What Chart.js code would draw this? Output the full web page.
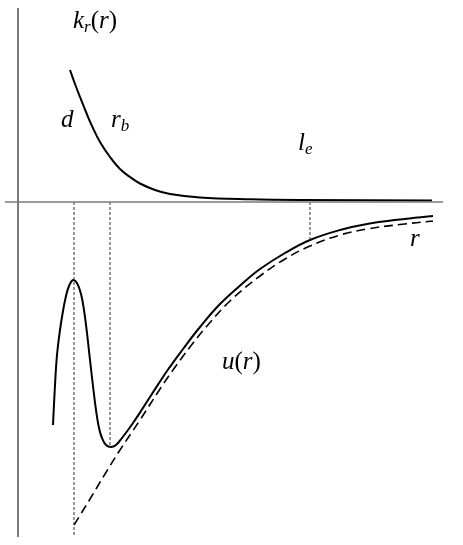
<!DOCTYPE html>
<html>
<head>
<meta charset="utf-8">
<script src="https://cdn.jsdelivr.net/npm/chart.js@4/dist/chart.umd.min.js"></script>
<style>
  html, body { margin: 0; padding: 0; background: #fff; }
  #grafico { display: block; }
</style>
</head>
<body>
<canvas id="grafico" width="463" height="545"></canvas>
<script>
// valores (r horizontal, valor vertical; el eje r esta en 0)
const kR_r = [70, 75, 80, 86, 92, 100, 110, 120, 130, 140, 155, 170, 200, 250, 300, 432];
const kR_v = [132, 118, 105, 90, 76, 60, 45, 33, 25, 18.5, 12, 8, 4.5, 2.7, 2, 1.5];

const u_r = [53, 55, 57, 60, 63, 66, 69, 73, 77, 81, 84, 87, 90, 93, 96, 99, 102, 106, 111, 116, 122, 133, 150, 167, 183, 200, 220, 243, 260, 285, 310, 340, 367, 400, 433];
const u_v = [-223, -183, -153, -128, -109, -94, -84, -78, -81, -92, -108, -131, -158, -184, -208, -226, -236, -243, -245, -243, -236, -221, -195, -169, -147, -125, -102, -81, -67, -51, -38, -28, -22, -17.5, -14];

const asint_r = [74, 90, 105, 120, 140, 160, 173, 190, 207, 230, 260, 285, 310, 340, 367, 400, 433];
const asint_v = [-323, -297, -272, -248, -218, -187, -168, -145, -124, -99, -74, -57, -44, -33, -27, -22.5, -19];

// marcas verticales punteadas: d, r_b, l_e
const marcas_r = [74, 110, 310];
const marcas_fin = [-335, -243, -39];

// ejes
const ejeR = { r: [5, 443], v: [0, 0] };
const ejeV = { r: [18, 18], v: [194, -335] };

const puntos = (xs, ys) => xs.map((x, i) => ({ x: x, y: ys[i] }));

// [texto, tamano, desplazamiento vertical, cursiva]
const etiquetas = [
  { partes: [["k", 25, 0, 1], ["r", 17, 4, 1], ["(", 25, 0, 0], ["r", 25, 0, 1], [")", 25, 0, 0]], x: 73, y: 174 },
  { partes: [["d", 25, 0, 1]], x: 61, y: 75 },
  { partes: [["r", 25, 0, 1], ["b", 17, 4, 1]], x: 111, y: 75 },
  { partes: [["l", 25, 0, 1], ["e", 17, 4, 1]], x: 298, y: 52 },
  { partes: [["r", 25, 0, 1]], x: 410, y: -44 },
  { partes: [["u", 25, 0, 1], ["(", 25, 0, 0], ["r", 25, 0, 1], [")", 25, 0, 0]], x: 222, y: -167 },
];

const pluginEtiquetas = {
  id: "etiquetas",
  afterDatasetsDraw(chart) {
    const ctx = chart.ctx;
    const sx = chart.scales.x, sy = chart.scales.y;
    ctx.save();
    ctx.fillStyle = "#000";
    ctx.textBaseline = "alphabetic";
    etiquetas.forEach((e) => {
      let px = sx.getPixelForValue(e.x);
      const py = sy.getPixelForValue(e.y);
      e.partes.forEach(([t, size, dy, it]) => {
        ctx.font = `${it ? "italic " : ""}${size}px "Liberation Serif", "DejaVu Serif", serif`;
        ctx.fillText(t, px, py + dy);
        px += ctx.measureText(t).width;
      });
    });
    ctx.restore();
  },
};

const datasets = [
  { data: puntos(ejeR.r, ejeR.v), borderColor: "#7a7a7a", borderWidth: 1.5, tension: 0 },
  { data: puntos(ejeV.r, ejeV.v), borderColor: "#7a7a7a", borderWidth: 2, tension: 0 },
];
marcas_r.forEach((m, i) => {
  datasets.push({
    data: puntos([m, m], [0, marcas_fin[i]]),
    borderColor: "#333",
    borderWidth: 1,
    borderDash: [3, 2],
    tension: 0,
  });
});
datasets.push(
  { data: puntos(kR_r, kR_v), borderColor: "#000", borderWidth: 2, tension: 0.4 },
  { data: puntos(u_r, u_v), borderColor: "#000", borderWidth: 2, tension: 0.4 },
  { data: puntos(asint_r, asint_v), borderColor: "#000", borderWidth: 1.6, borderDash: [9, 5], tension: 0.4 }
);
datasets.forEach((d) => {
  d.showLine = true;
  d.pointRadius = 0;
  d.fill = false;
});

new Chart(document.getElementById("grafico"), {
  type: "scatter",
  data: { datasets: datasets },
  options: {
    responsive: false,
    animation: false,
    layout: { padding: 0 },
    scales: {
      x: { type: "linear", min: 0, max: 463, display: false },
      y: { type: "linear", min: -343, max: 202, display: false },
    },
    plugins: {
      legend: { display: false },
      tooltip: { enabled: false },
    },
  },
  plugins: [pluginEtiquetas],
});
</script>
</body>
</html>
